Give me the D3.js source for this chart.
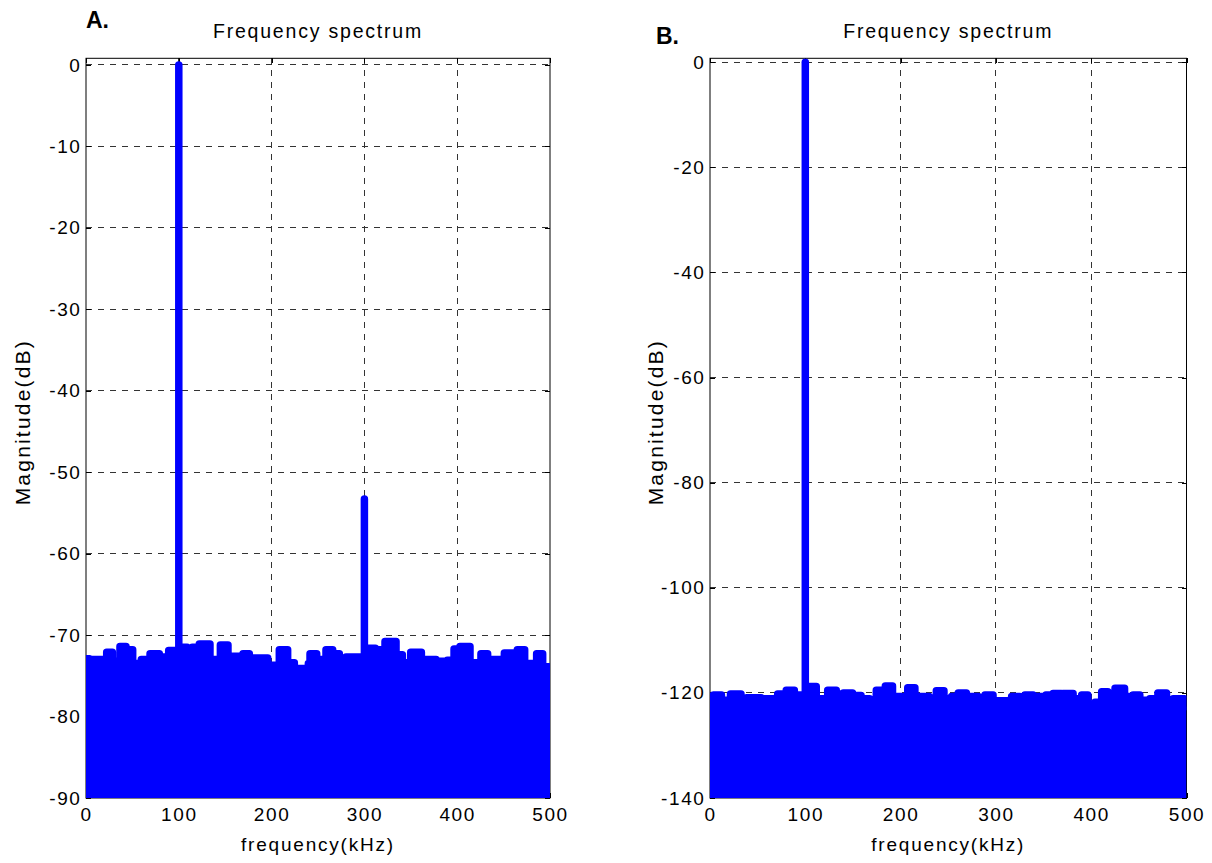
<!DOCTYPE html>
<html>
<head>
<meta charset="utf-8">
<script src="https://cdn.jsdelivr.net/npm/d3@7"></script>
<style>
  body { margin: 0; background: #fff; }
  svg { display: block; }
  text { font-family: "Liberation Sans", Arial, Helvetica, sans-serif; fill: #000; }
</style>
</head>
<body>
<svg id="chart" width="1212" height="863"></svg>
<script>
// ---- data -------------------------------------------------------------
const freqTicks = [0, 100, 200, 300, 400, 500];           // kHz
const dbTicksA = [0, -10, -20, -30, -40, -50, -60, -70, -80, -90];
const dbTicksB = [0, -20, -40, -60, -80, -100, -120, -140];

// Panel A: tones and upper edge of the noise floor (step start kHz, dB)
const peakFreqA = [100, 300];
const peakDbA = [0, -53.3];
const noiseFreqA = [0, 3.6, 6.1, 22.3, 28.4, 36.6, 43.1, 50.3, 59.6, 66.5, 69.0, 79.0, 81.2, 89.1,
  103.1, 108.9, 114.6, 122.1, 133.6, 144.8, 153.0, 158.0, 167.0, 169.2, 176.0, 195.8, 208.3, 217.3,
  224.5, 239.6, 241.4, 248.6, 258.6, 265.8, 273.0, 280.2, 303.2, 311.8, 322.2, 334.1, 340.9, 349.9,
  361.4, 377.2, 389.4, 396.6, 403.0, 413.8, 425.6, 432.8, 446.1, 450.8, 464.8, 472.7, 485.6, 492.1,
  499.3, 500];
const noiseDbA = [-72.9, -74.3, -73.0, -72.1, -73.2, -71.4, -71.8, -73.5, -73.0, -73.8, -72.3, -73.8, -72.7, -71.9,
  -71.5, -73.1, -71.5, -71.1, -73.0, -71.2, -73.1, -72.6, -73.1, -72.3, -72.8, -73.7, -71.8, -73.4,
  -74.1, -73.5, -72.3, -73.0, -71.8, -72.3, -73.4, -72.7, -71.6, -71.8, -70.8, -72.4, -73.4, -72.1,
  -73.0, -73.2, -73.1, -71.7, -71.4, -73.4, -72.3, -73.0, -74.2, -72.2, -71.8, -73.5, -72.3, -73.9,
  -75.7, -75.7];

// Panel B: single tone and noise floor
const peakFreqB = [100];
const peakDbB = [0];
const noiseFreqB = [0, 3.5, 12, 13.5, 21.5, 32.5, 38.5, 53.5, 55.5, 71, 80, 88.5, 103, 111.5, 123.5,
  132.5, 140, 149.5, 158.5, 167.5, 174.5, 184, 191.5, 193.5, 202.5, 207.5, 215, 219.5, 230, 237.5,
  245.5, 253.5, 260.5, 269, 272.5, 281.5, 288.5, 297, 299, 316.5, 325, 330.5, 339, 341, 352.5, 360,
  368.5, 370.5, 381, 390, 396.5, 398.5, 404, 411, 417.5, 425, 435, 444, 451, 461.5, 470, 479, 486,
  498, 500];
const noiseDbB = [-121.7, -120.4, -122.6, -121.4, -120.2, -122.3, -120.9, -122.3, -121.1, -120.2, -119.5, -120.4, -118.8, -121.1, -119.5,
  -120.2, -120.0, -120.5, -121.1, -121.5, -119.5, -118.7, -122.6, -120.7, -122.0, -119.0, -122.0, -120.7, -121.2, -119.6,
  -121.1, -120.7, -120.0, -122.0, -120.7, -121.9, -120.4, -121.7, -121.5, -120.7, -121.7, -120.4, -121.4, -120.7, -120.4, -120.1,
  -121.0, -120.1, -121.1, -120.4, -123.3, -122.3, -121.8, -119.8, -122.0, -119.1, -120.7, -120.4, -121.4, -121.1, -120.0, -122.0, -121.1,
  -122.6, -122.6];

// ---- layout -----------------------------------------------------------
const panels = [
  { key: "A", letter: "A.", letterX: 86, letterY: 28,
    box: { left: 86, right: 550, top: 58.3, bottom: 798 },
    yDomain: [-90, 0.82], yTicks: dbTicksA, yLabelX: 22,
    noiseF: noiseFreqA, noiseDb: noiseDbA, peakF: peakFreqA, peakDb: peakDbA },
  { key: "B", letter: "B.", letterX: 656, letterY: 44,
    box: { left: 710, right: 1186.5, top: 58.3, bottom: 798 },
    yDomain: [-140, 0.76], yTicks: dbTicksB, yLabelX: 655,
    noiseF: noiseFreqB, noiseDb: noiseDbB, peakF: peakFreqB, peakDb: peakDbB }
];

const BLUE = "#0000ff";
const LINE_W = 7.5;
const TICK_FONT = "19px";
const TICK_LS = "1.6px";
const fmtTick = d => String(d);   // plain hyphen-minus for negatives

const svg = d3.select("#chart");

panels.forEach(p => {
  const b = p.box;
  const x = d3.scaleLinear().domain([0, 500]).range([b.left, b.right]);
  const y = d3.scaleLinear().domain(p.yDomain).range([b.bottom, b.top]);
  const g = svg.append("g").attr("class", "panel-" + p.key);

  // grid
  const grid = g.append("g").attr("stroke", "#333").attr("stroke-width", 1)
    .attr("stroke-dasharray", "6,6").attr("shape-rendering", "crispEdges");
  grid.selectAll("line.gx").data(freqTicks.filter(v => v > 0 && v < 500)).join("line")
    .attr("class", "gx")
    .attr("x1", d => x(d)).attr("x2", d => x(d))
    .attr("y1", b.top).attr("y2", b.bottom);
  grid.selectAll("line.gy").data(p.yTicks.filter(v => v !== p.yDomain[0])).join("line")
    .attr("class", "gy")
    .attr("x1", b.left).attr("x2", b.right)
    .attr("y1", d => y(d)).attr("y2", d => y(d));

  // axes with inward ticks on all four sides
  const styleAxis = sel => {
    sel.select(".domain").remove();
    sel.selectAll(".tick line").attr("stroke", "#000").attr("shape-rendering", "crispEdges");
    sel.selectAll("text").attr("font-family", "'Liberation Sans', Arial, sans-serif")
      .attr("font-size", TICK_FONT).style("letter-spacing", TICK_LS).attr("fill", "#000");
    sel.attr("font-family", null).attr("font-size", null);
  };
  g.append("g").attr("transform", `translate(0,${b.bottom})`)
    .call(d3.axisBottom(x).tickValues(freqTicks).tickSize(-5).tickPadding(9.5).tickFormat(fmtTick))
    .call(styleAxis);
  g.append("g").attr("transform", `translate(0,${b.top})`)
    .call(d3.axisTop(x).tickValues(freqTicks).tickSize(-5).tickFormat(""))
    .call(styleAxis);
  g.append("g").attr("transform", `translate(${b.left},0)`)
    .call(d3.axisLeft(y).tickValues(p.yTicks).tickSize(-5).tickPadding(4.5).tickFormat(fmtTick))
    .call(styleAxis);
  g.append("g").attr("transform", `translate(${b.right},0)`)
    .call(d3.axisRight(y).tickValues(p.yTicks).tickSize(-5).tickFormat(""))
    .call(styleAxis);

  // box
  g.append("rect").attr("x", b.left).attr("y", b.top)
    .attr("width", b.right - b.left).attr("height", b.bottom - b.top)
    .attr("fill", "none").attr("stroke", "#000").attr("stroke-width", 1);

  // spectrum, clipped to the axes box
  const clipId = "clip-" + p.key;
  g.append("clipPath").attr("id", clipId).append("rect")
    .attr("x", b.left).attr("y", b.top)
    .attr("width", b.right - b.left).attr("height", b.bottom - b.top);
  const data = g.append("g").attr("clip-path", `url(#${clipId})`);

  const noise = p.noiseF.map((f, i) => ({ f, db: p.noiseDb[i] }));
  data.append("path").datum(noise)
    .attr("fill", BLUE)
    .attr("d", d3.area().curve(d3.curveStepAfter)
      .x(d => x(d.f)).y0(b.bottom + 10).y1(d => y(d.db)));
  data.append("path").datum(noise)
    .attr("fill", "none").attr("stroke", BLUE).attr("stroke-width", LINE_W)
    .attr("stroke-linejoin", "round").attr("stroke-linecap", "round")
    .attr("d", d3.line().curve(d3.curveStepAfter).x(d => x(d.f)).y(d => y(d.db)));

  const peaks = p.peakF.map((f, i) => ({ f, db: p.peakDb[i] }));
  data.selectAll("line.peak").data(peaks).join("line")
    .attr("class", "peak")
    .attr("x1", d => x(d.f)).attr("x2", d => x(d.f))
    .attr("y1", y(p.yDomain[0]) + 10).attr("y2", d => y(d.db))
    .attr("stroke", BLUE).attr("stroke-width", LINE_W).attr("stroke-linecap", "round");

  // titles and labels
  const cx = (b.left + b.right) / 2;
  g.append("text").attr("x", cx).attr("y", 38).attr("text-anchor", "middle")
    .attr("font-size", "19.5px").style("letter-spacing", "1.8px")
    .text("Frequency spectrum");
  g.append("text").attr("x", cx).attr("y", 851).attr("text-anchor", "middle")
    .attr("font-size", "19px").style("letter-spacing", "1.8px")
    .text("frequency(kHz)");
  g.append("text")
    .attr("transform", `translate(${p.yLabelX},${(b.top + b.bottom) / 2 - 6}) rotate(-90)`)
    .attr("text-anchor", "middle").attr("dominant-baseline", "central")
    .attr("font-size", "21px").style("letter-spacing", "2.2px")
    .text("Magnitude(dB)");
  g.append("text").attr("x", p.letterX).attr("y", p.letterY)
    .attr("font-family", "'Open Sans', 'Liberation Sans', sans-serif")
    .attr("font-weight", "bold").attr("font-size", "23px")
    .text(p.letter);
});
</script>
</body>
</html>
